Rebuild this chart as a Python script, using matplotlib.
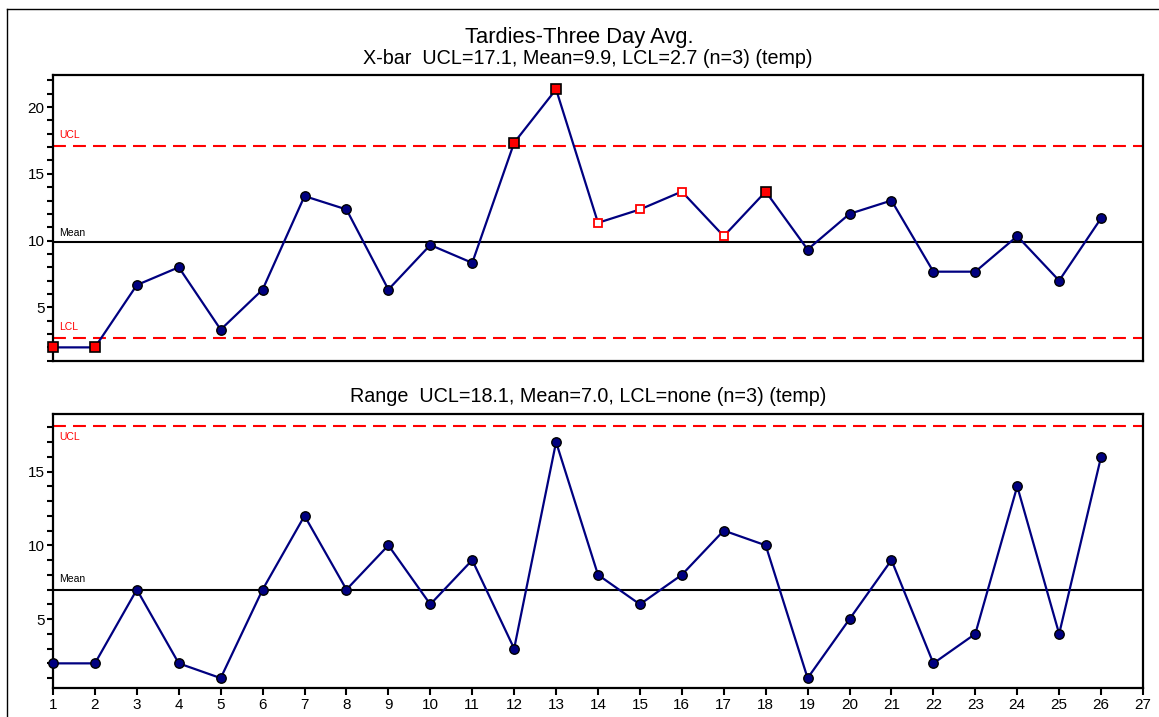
import numpy as np
import matplotlib.pyplot as plt
from matplotlib.lines import Line2D
from matplotlib.ticker import MultipleLocator

plt.rcParams['font.family'] = ['Liberation Sans', 'DejaVu Sans']

# subgroup numbers
samples = list(range(1, 27))

# X-bar (three day averages)
xbar = [2.0, 2.0, 6.67, 8.0, 3.33, 6.33, 13.33, 12.33, 6.33, 9.67, 8.33, 17.33, 21.33,
        11.33, 12.33, 13.67, 10.33, 13.67, 9.33, 12.0, 13.0, 7.67, 7.67, 10.33, 7.0, 11.67]
# point status: 'out' = red filled square, 'rule' = hollow red square, 'ok' = circle
xbar_flag = ['out', 'out', 'ok', 'ok', 'ok', 'ok', 'ok', 'ok', 'ok', 'ok', 'ok', 'out', 'out',
             'rule', 'rule', 'rule', 'rule', 'out', 'ok', 'ok', 'ok', 'ok', 'ok', 'ok', 'ok', 'ok']
xbar_ucl, xbar_mean, xbar_lcl = 17.1, 9.9, 2.7

# Range
rng = [2, 2, 7, 2, 1, 7, 12, 7, 10, 6, 9, 3, 17, 8, 6, 8, 11, 10, 1, 5, 9, 2, 4, 14, 4, 16]
rng_ucl, rng_mean = 18.1, 7.0

navy = '#000080'
red = '#ff0000'

fig = plt.figure(figsize=(11.59, 7.17), dpi=100)

# outer frame (left and top edges visible)
W, H = 1159, 717
fig.add_artist(Line2D([7 / W, 7 / W], [0, 1 - 9 / H], color='black', lw=1))
fig.add_artist(Line2D([7 / W, 1], [1 - 9 / H, 1 - 9 / H], color='black', lw=1))

ax1 = fig.add_axes([53 / W, 1 - 361 / H, 1090 / W, 286 / H])
ax2 = fig.add_axes([53 / W, 1 - 688 / H, 1090 / W, 274 / H])


def style(ax):
    for s in ax.spines.values():
        s.set_linewidth(1.6)
    ax.set_xlim(1, 27)
    ax.yaxis.set_major_locator(MultipleLocator(5))
    ax.yaxis.set_minor_locator(MultipleLocator(1))
    ax.tick_params(axis='y', which='both', direction='out', length=4, width=1.5,
                   labelsize=11, pad=2)


dash = (0, (6.2, 3.4))

# ---- X-bar chart
style(ax1)
ax1.set_ylim(0.98, 22.4)
ax1.set_xticks([])
ax1.axhline(xbar_ucl, color=red, lw=1.5, ls=dash)
ax1.axhline(xbar_lcl, color=red, lw=1.5, ls=dash)
ax1.axhline(xbar_mean, color='black', lw=1.5)
ax1.text(1.15, xbar_ucl + 0.45, 'UCL', color=red, fontsize=7.5, va='bottom')
ax1.text(1.15, xbar_lcl + 0.45, 'LCL', color=red, fontsize=7.5, va='bottom')
ax1.text(1.15, xbar_mean + 0.3, 'Mean', color='black', fontsize=7.5, va='bottom')
ax1.plot(samples, xbar, color=navy, lw=1.6, zorder=3, clip_on=False)
for x, y, f in zip(samples, xbar, xbar_flag):
    if f == 'out':
        ax1.plot(x, y, 's', ms=6.8, mfc=red, mec='black', mew=1.2, zorder=4, clip_on=False)
    elif f == 'rule':
        ax1.plot(x, y, 's', ms=6.3, mfc='white', mec=red, mew=1.3, zorder=4, clip_on=False)
    else:
        ax1.plot(x, y, 'o', ms=6.8, mfc=navy, mec='black', mew=1.0, zorder=4, clip_on=False)

fig.text(0.5, 1 - 37 / H, 'Tardies-Three Day Avg.', ha='center', va='center', fontsize=15.8)
fig.text(588 / W, 1 - 58 / H, 'X-bar  UCL=17.1, Mean=9.9, LCL=2.7 (n=3) (temp)',
         ha='center', va='center', fontsize=14.2)

# ---- Range chart
style(ax2)
ax2.set_ylim(0.33, 18.9)
ax2.axhline(rng_ucl, color=red, lw=1.5, ls=dash)
ax2.axhline(rng_mean, color='black', lw=1.5)
ax2.text(1.15, rng_ucl - 0.4, 'UCL', color=red, fontsize=7.5, va='top')
ax2.text(1.15, rng_mean + 0.4, 'Mean', color='black', fontsize=7.5, va='bottom')
ax2.plot(samples, rng, color=navy, lw=1.6, marker='o', ms=6.8, mfc=navy, mec='black',
         mew=1.0, zorder=3, clip_on=False)
ax2.set_xticks(range(1, 28))
ax2.tick_params(axis='x', direction='out', length=5, width=1.5, labelsize=11, pad=2)
fig.text(588 / W, 1 - 396 / H, 'Range  UCL=18.1, Mean=7.0, LCL=none (n=3) (temp)',
         ha='center', va='center', fontsize=14.2)

fig.savefig('out.png', dpi=100)
